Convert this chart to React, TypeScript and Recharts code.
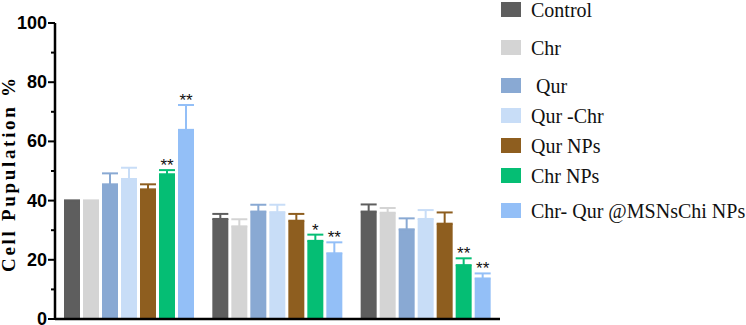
import { BarChart, Bar, XAxis, YAxis, ErrorBar, LabelList, Label } from "recharts";

// three measurement groups, seven treatments each
const groups = ["G1", "G2", "G3"];

const seriesNames = ["Control", "Chr", " Qur", "Qur -Chr", "Qur NPs", "Chr NPs", "Chr- Qur @MSNsChi NPs"];
const seriesKeys = ["control", "chr", "qur", "qurChr", "qurNps", "chrNps", "chrQur"];
const seriesColors = ["#5e5e5e", "#d4d4d4", "#89a9d3", "#c8ddf7", "#8e5e1f", "#05be74", "#93bff7"];

const control = [40, 33.8, 36.3];
const chr = [40, 31.3, 35.9];
const qur = [45.5, 36.3, 30.3];
const qurChr = [47.3, 36.1, 33.8];
const qurNps = [43.8, 33.2, 32.2];
const chrNps = [48.9, 26.4, 18.2];
const chrQur = [63.9, 22.2, 13.7];

// upper error (SD) per group
const controlErr = [0, 1.7, 2.4];
const chrErr = [0, 2.4, 1.6];
const qurErr = [3.7, 2.3, 3.7];
const qurChrErr = [3.8, 2.5, 3.0];
const qurNpsErr = [1.7, 2.3, 3.8];
const chrNpsErr = [1.4, 2.1, 2.3];
const chrQurErr = [8.4, 3.7, 1.7];

// significance marks vs control
const chrNpsSig = ["**", "*", "**"];
const chrQurSig = ["**", "**", "**"];

const yTicks = [0, 10, 20, 30, 40, 50, 60, 70, 80, 90, 100];

const values = [control, chr, qur, qurChr, qurNps, chrNps, chrQur];
const errors = [controlErr, chrErr, qurErr, qurChrErr, qurNpsErr, chrNpsErr, chrQurErr];
const sigs: Record<string, string[]> = { chrNps: chrNpsSig, chrQur: chrQurSig };

const data = groups.map((g, i) => {
  const row: Record<string, any> = { group: g };
  seriesKeys.forEach((k, s) => {
    row[k] = values[s][i];
    row[k + "Err"] = [0, errors[s][i]];
    if (sigs[k]) row[k + "Sig"] = sigs[k][i];
  });
  return row;
});

// legend rows are not evenly spaced in the layout
const legendTops = [2, 40, 78, 108, 138, 168, 203];

function YTick(props: any) {
  const { x, y, payload } = props;
  const major = payload.value % 20 === 0;
  return (
    <g>
      <line x1={x - (major ? 7 : 4)} x2={x} y1={y} y2={y} stroke="#000" strokeWidth={2} />
      {major && (
        <text
          x={x - 8}
          y={y}
          textAnchor="end"
          dominantBaseline="central"
          fontFamily="'Liberation Sans', Arial, sans-serif"
          fontWeight="bold"
          fontSize={18}
          fill="#000"
        >
          {payload.value}
        </text>
      )}
    </g>
  );
}

function sigLabel(key: string, errs: number[]) {
  return (props: any) => {
    const { x, y, width, height, value, index } = props;
    if (!value) return null;
    const v = data[index][key] as number;
    const top = y - (errs[index] * height) / v;
    return (
      <text
        x={x + width / 2}
        y={top + 1}
        textAnchor="middle"
        fontFamily="'Liberation Sans', Arial, sans-serif"
        fontSize={17}
        fill="#111"
      >
        {value}
      </text>
    );
  };
}

export default function App() {
  return (
    <div style={{ position: "absolute", left: 0, top: 0, width: 746, height: 325, background: "#fff" }}>
      <BarChart
        width={746}
        height={325}
        data={data}
        margin={{ top: 23, right: 246, bottom: 0, left: 0 }}
        barSize={16}
        barGap={3}
      >
        <XAxis
          dataKey="group"
          height={6}
          tick={false}
          tickSize={6}
          axisLine={{ stroke: "#000", strokeWidth: 2.5 }}
          tickLine={{ stroke: "#000", strokeWidth: 2 }}
        />
        <YAxis
          width={55}
          domain={[0, 100]}
          ticks={yTicks}
          interval={0}
          tickSize={0}
          tickMargin={0}
          tickLine={false}
          axisLine={{ stroke: "#000", strokeWidth: 2.5 }}
          tick={<YTick />}
        >
          <Label
            content={() => (
              <text
                x={15}
                y={175}
                transform="rotate(-90 15 175)"
                textAnchor="middle"
                textLength={194}
                lengthAdjust="spacing"
                fontFamily="'Liberation Serif', 'Times New Roman', serif"
                fontWeight="bold"
                fontSize={19}
                fill="#000"
              >
                Cell Pupulation %
              </text>
            )}
          />
        </YAxis>
        {seriesKeys.map((k, s) => (
          <Bar key={k} dataKey={k} name={seriesNames[s]} fill={seriesColors[s]} isAnimationActive={false}>
            <ErrorBar dataKey={k + "Err"} width={8} stroke={seriesColors[s]} strokeWidth={2} direction="y" />
            {sigs[k] && <LabelList dataKey={k + "Sig"} content={sigLabel(k, errors[s])} />}
          </Bar>
        ))}
      </BarChart>
      {seriesNames.map((n, s) => (
        <div
          key={n}
          style={{
            position: "absolute",
            left: 501,
            top: legendTops[s],
            display: "flex",
            alignItems: "center",
            height: 15,
            whiteSpace: "pre",
          }}
        >
          <div style={{ width: 20, height: 15, background: seriesColors[s] }} />
          <span
            style={{
              marginLeft: 10,
              fontFamily: "'Liberation Serif', 'Times New Roman', serif",
              fontSize: 20,
              color: "#111",
              lineHeight: "20px",
            }}
          >
            {n}
          </span>
        </div>
      ))}
    </div>
  );
}
